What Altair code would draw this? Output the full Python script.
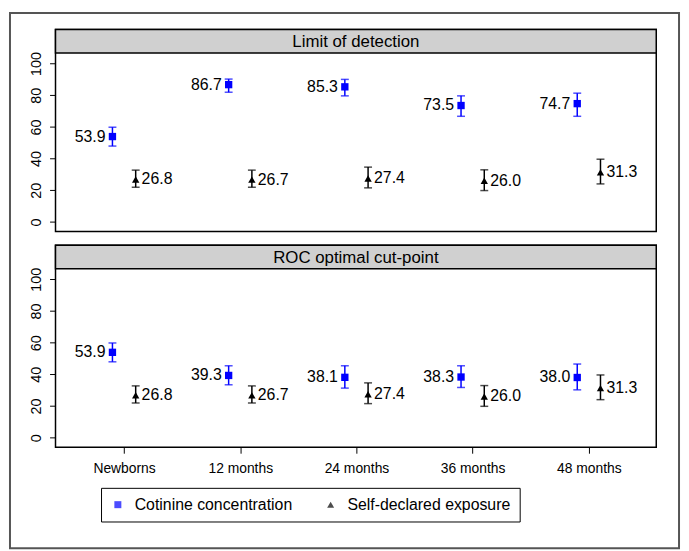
import json
import altair as alt
import pandas as pd

categories = ["Newborns", "12 months", "24 months", "36 months", "48 months"]
panels = ["Limit of detection", "ROC optimal cut-point"]
series_names = ["Cotinine concentration", "Self-declared exposure"]

# Limit of detection - cotinine
lod_cot = [53.9, 86.7, 85.3, 73.5, 74.7]
lod_cot_lo = [47.9, 81.9, 79.6, 66.7, 66.7]
lod_cot_hi = [59.8, 90.2, 90.0, 79.6, 81.3]
# ROC optimal cut-point - cotinine
roc_cot = [53.9, 39.3, 38.1, 38.3, 38.0]
roc_cot_lo = [47.9, 33.4, 31.3, 31.7, 30.2]
roc_cot_hi = [59.8, 45.4, 45.4, 45.4, 46.5]
# Self-declared exposure (same in both panels)
self_val = [26.8, 26.7, 27.4, 26.0, 31.3]
self_lo = [21.9, 21.9, 21.5, 19.8, 24.0]
self_hi = [32.7, 32.7, 34.6, 32.9, 39.6]

OFFSET = 0.1
rows = []
for p, (cv, cl, ch) in zip(panels, [(lod_cot, lod_cot_lo, lod_cot_hi),
                                     (roc_cot, roc_cot_lo, roc_cot_hi)]):
    for i, c in enumerate(categories):
        rows.append(dict(panel=p, idx=i + 1, series=series_names[0], xpos=i + 1 - OFFSET,
                         value=cv[i], lo=cl[i], hi=ch[i], label=f"{cv[i]:.1f}"))
        rows.append(dict(panel=p, idx=i + 1, series=series_names[1], xpos=i + 1 + OFFSET,
                         value=self_val[i], lo=self_lo[i], hi=self_hi[i], label=f"{self_val[i]:.1f}"))
df = pd.DataFrame(rows)

W = 607
H = 204
STRIP = 23.6
FONT = "Liberation Sans"

label_expr = json.dumps(categories) + "[datum.value - 1]"
xscale = alt.Scale(domain=[0.41, 5.58], nice=False, zero=False)
yscale = alt.Scale(domain=[-6.06, 121.44], nice=False, zero=False)

x_enc = alt.X("xpos:Q", scale=xscale, title=None,
              axis=alt.Axis(values=[1, 2, 3, 4, 5], labelExpr=label_expr, grid=False,
                            domain=False, tickSize=6, tickColor="black", tickWidth=1,
                            labelFontSize=14, labelColor="black", labelPadding=8,
                            labelFont=FONT))
y_axis = alt.Axis(values=[0, 20, 40, 60, 80, 100], grid=False, domain=False, tickSize=6,
                  tickColor="black", tickWidth=1, labelAngle=270, labelAlign="center",
                  labelBaseline="alphabetic", labelFontSize=14.5, labelColor="black",
                  labelPadding=9, labelFont=FONT)

legend = alt.Legend(title=None, orient="none", legendX=46, legendY=463,
                    direction="horizontal", strokeColor="black",
                    fillColor="white", padding=9, labelFontSize=16, labelLimit=0,
                    labelFont=FONT, labelColor="black", symbolSize=50,
                    symbolStrokeWidth=0, labelOffset=9, columnPadding=30)

color = alt.Color("series:N", scale=alt.Scale(domain=series_names, range=["#0000ff", "#000000"]),
                  legend=legend)
shape = alt.Shape("series:N", scale=alt.Scale(domain=series_names, range=["square", "triangle-up"]),
                  legend=legend)

base = alt.Chart()

one_per_panel = (alt.datum.idx == 1) & (alt.datum.series == series_names[0])

strip = base.mark_rect(fill="#d0d0d0", stroke="black", strokeWidth=1.5).encode(
    x=alt.value(0), x2=alt.value(W), y=alt.value(0), y2=alt.value(STRIP)
).transform_filter(one_per_panel)

strip_text = base.mark_text(fontSize=17, font=FONT, color="black", baseline="middle").encode(
    x=alt.value(W / 2), y=alt.value(STRIP / 2 + 1), text="panel:N"
).transform_filter(one_per_panel)

frame = base.mark_rect(fill="transparent", stroke="#555555", strokeWidth=2).encode(
    x=alt.value(-46), x2=alt.value(630), y=alt.value(-16.7), y2=alt.value(524)
).transform_filter(one_per_panel & (alt.datum.panel == panels[0]))

bars = base.mark_errorbar(ticks={"size": 8, "thickness": 1.5}, thickness=1.5).encode(
    x=x_enc,
    y=alt.Y("lo:Q", scale=yscale, axis=y_axis, title=None),
    y2="hi:Q",
    color=color,
)

points = base.mark_point(filled=True, size=55, opacity=1).encode(
    x=x_enc,
    y=alt.Y("value:Q", scale=yscale, axis=y_axis, title=None),
    color=color,
    shape=shape,
)

lab_cot = base.mark_text(align="right", baseline="middle", dx=-7, fontSize=16, font=FONT,
                         color="black").encode(
    x=x_enc, y=alt.Y("value:Q", scale=yscale), text="label:N"
).transform_filter(alt.datum.series == series_names[0])

lab_self = base.mark_text(align="left", baseline="middle", dx=6, fontSize=16, font=FONT,
                          color="black").encode(
    x=x_enc, y=alt.Y("value:Q", scale=yscale), text="label:N"
).transform_filter(alt.datum.series == series_names[1])

layered = alt.layer(strip, strip_text, bars, points, lab_cot, lab_self, frame).properties(
    width=W, height=H, view=alt.ViewBackground(stroke="black", strokeWidth=1.5)
)

chart = layered.facet(
    data=df,
    row=alt.Row("panel:N", sort=panels, header=alt.Header(labels=False, title=None)),
    spacing=14,
    bounds="flush",
).configure_view(
    stroke="black", strokeWidth=1.5
).configure(
    background="white", padding=0, font=FONT,
    style={"cell": {"stroke": "black", "strokeWidth": 1.5}}
)

chart.save("out.html", embed_options={"renderer": "svg", "actions": False})
